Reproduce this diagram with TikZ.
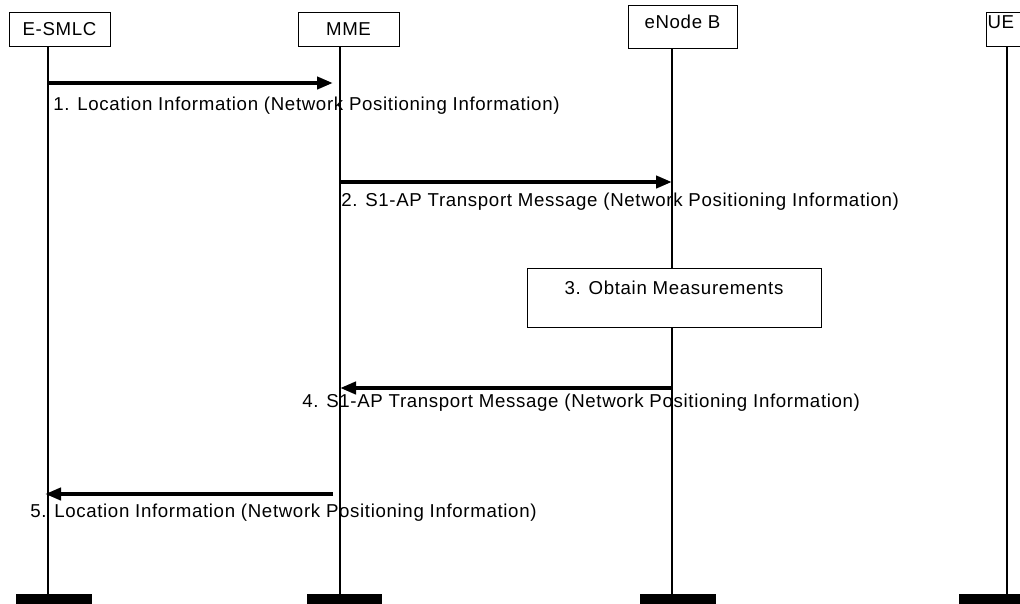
\documentclass[tikz,border=0pt]{standalone}
\usepackage{fontspec}
\setmainfont{Liberation Sans}[LetterSpace=3.5]
\usetikzlibrary{positioning,arrows.meta}
\tikzset{
  hdr/.style={draw, line width=0.75pt, fill=white, inner sep=2.25pt, minimum width=75.75pt, minimum height=25.5pt},
  lifeline/.style={line width=1.2pt},
  endbar/.style={fill=black, inner sep=0pt, minimum width=56.5pt, minimum height=9pt},
  msg/.style={-{Triangle[length=12pt,width=9pt]}, line width=3pt},
  msglbl/.style={anchor=base west, inner sep=0pt},
}
\begin{document}
\begin{tikzpicture}[x=0.75pt, y=-0.75pt, font=\fontsize{14}{16}\selectfont]
  \useasboundingbox (0,0) rectangle (1020,603);
  % entities
  \node[hdr] (esmlc) at (59.5,29) {E-SMLC};
  \node[hdr] (mme) at (348.5,29) {MME};
  \node[hdr, anchor=north, minimum width=81.75pt, minimum height=0pt, text height=15pt, text depth=12.75pt] (enb) at (682.5,5) {eNode B};
  \node[hdr, anchor=north west, minimum width=0pt, minimum height=0pt, inner xsep=0.75pt, text width=40pt, align=left, text height=9.75pt, text depth=11.25pt] (ue) at (986,12) {UE};
  % ends of the lifelines
  \node[endbar] (esmlc-end) at (54,600) {};
  \node[endbar] (mme-end) at (344.5,600) {};
  \node[endbar] (enb-end) at (678,600) {};
  \node[endbar] (ue-end) at (997,600) {};
  \coordinate (esmlc-l) at (48,0);
  \coordinate (mme-l) at (340,0);
  \coordinate (enb-l) at (672,0);
  \coordinate (ue-l) at (1007,0);
  \draw[lifeline] (esmlc-l |- esmlc.south) -- (esmlc-l |- esmlc-end.north);
  \draw[lifeline] (mme-l |- mme.south) -- (mme-l |- mme-end.north);
  \draw[lifeline] (enb-l |- enb.south) -- (enb-l |- enb-end.north);
  \draw[lifeline] (ue-l |- ue.south) -- (ue-l |- ue-end.north);
  % message rows
  \coordinate (m1) at (0,83);
  \coordinate (m2) at (0,182);
  \coordinate (m4) at (0,388);
  \coordinate (m5) at (0,494);
  \draw[msg, shorten >=5.25pt] (esmlc-l |- m1) -- (mme-l |- m1);
  \node[msglbl] (t1) at (53,110) {1. Location Information (Network Positioning Information)};
  \draw[msg] (mme-l |- m2) -- (enb-l |- m2);
  \node[msglbl] (t2) at (341,206) {2. S1-AP Transport Message (Network Positioning Information)};
  \node[hdr, anchor=north, minimum width=220.5pt, minimum height=0pt, text height=17.25pt, text depth=22.5pt] (meas) at (674,268) {3. Obtain Measurements};
  \draw[msg] (enb-l |- m4) -- (mme-l |- m4);
  \node[msglbl] (t4) at (302,407) {4. S1-AP Transport Message (Network Positioning Information)};
  \draw[msg, shorten <=5.25pt, shorten >=-2.25pt] (mme-l |- m5) -- (esmlc-l |- m5);
  \node[msglbl] (t5) at (30,517) {5. Location Information (Network Positioning Information)};
\end{tikzpicture}
\end{document}
